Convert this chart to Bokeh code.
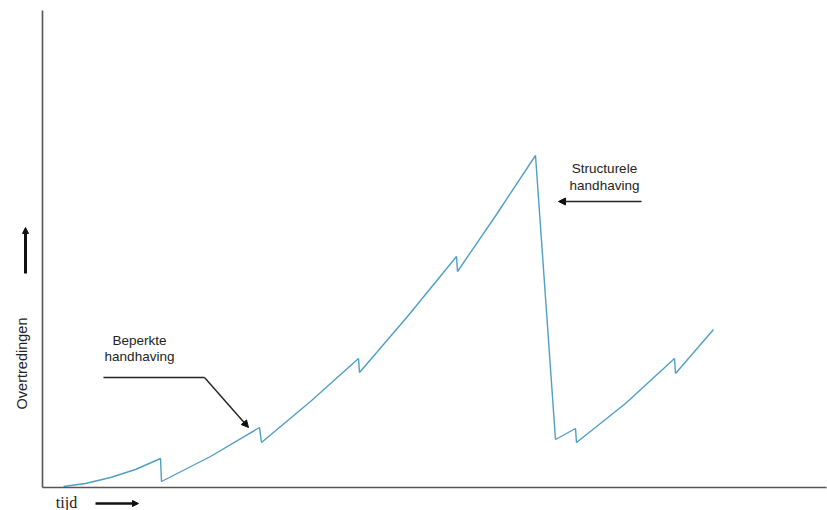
import math
from bokeh.plotting import figure
from bokeh.models import Label, Arrow, NormalHead, Range1d
from bokeh.embed import file_html
from bokeh.resources import INLINE

# Data (time vs. number of violations)
tijd = [21, 43, 68, 93, 118, 119, 168, 217, 219, 268, 316, 317, 365, 414,
        415, 454, 493, 513, 533, 534, 583, 632, 633, 671]
overtredingen = [1, 4, 10, 18, 29, 6, 31, 60, 45, 86, 129, 115, 171, 231,
                 216, 273, 332, 48, 59, 45, 84, 129, 114, 158]

x_label = "tijd"
y_label = "Overtredingen"
note_limited = ["Beperkte", "handhaving"]
note_structural = ["Structurele", "handhaving"]

X_MAX = 784
Y_MAX = 477

p = figure(width=827, height=510, output_backend="svg", toolbar_location=None,
           x_range=Range1d(-42, 785), y_range=Range1d(-23, 487),
           min_border=0, x_axis_location=None, y_axis_location=None)
p.grid.visible = False
p.outline_line_color = None
p.background_fill_color = "white"

AX = "#555555"
# axis lines (left and bottom only)
p.add_layout(Arrow(x_start=0, y_start=0, x_end=0, y_end=Y_MAX,
                   line_color=AX, line_width=1.6, end=None))
p.add_layout(Arrow(x_start=0, y_start=0, x_end=X_MAX, y_end=0,
                   line_color=AX, line_width=1.6, end=None))

p.line(tijd, overtredingen, line_color="#4f9ec4", line_width=1.4)

TXT = "#222222"
FONT = "Liberation Sans"
FS = "13.5px"

# Beperkte handhaving annotation
p.add_layout(Label(x=97, y=147, text=note_limited[0], text_align="center",
                   text_baseline="middle", text_font=FONT, text_font_size=FS,
                   text_color=TXT))
p.add_layout(Label(x=97, y=131, text=note_limited[1], text_align="center",
                   text_baseline="middle", text_font=FONT, text_font_size=FS,
                   text_color=TXT))
p.add_layout(Arrow(x_start=61, y_start=110, x_end=162, y_end=110,
                   line_color="#222222", line_width=1.4, end=None))
p.add_layout(Arrow(x_start=162, y_start=110, x_end=206, y_end=60,
                   line_color="#222222", line_width=1.4,
                   end=NormalHead(size=7, fill_color="#111111", line_color="#111111")))

# Structurele handhaving annotation
p.add_layout(Label(x=562, y=319, text=note_structural[0], text_align="center",
                   text_baseline="middle", text_font=FONT, text_font_size=FS,
                   text_color=TXT))
p.add_layout(Label(x=562, y=302, text=note_structural[1], text_align="center",
                   text_baseline="middle", text_font=FONT, text_font_size=FS,
                   text_color=TXT))
p.add_layout(Arrow(x_start=599, y_start=286, x_end=516, y_end=286,
                   line_color="#222222", line_width=1.6,
                   end=NormalHead(size=7, fill_color="#111111", line_color="#111111")))

# Axis labels with arrows
p.add_layout(Label(x=-20.5, y=124, text=y_label, angle=math.pi / 2,
                   text_align="center", text_baseline="middle", text_font=FONT,
                   text_font_size="14.5px", text_color=TXT))
p.add_layout(Arrow(x_start=-17, y_start=214, x_end=-17, y_end=260,
                   line_color="#111111", line_width=3,
                   end=NormalHead(size=6, fill_color="#111111", line_color="#111111")))
p.add_layout(Label(x=24, y=-15, text=x_label, text_align="center",
                   text_baseline="middle", text_font="Liberation Serif",
                   text_font_size="16px", text_color=TXT))
p.add_layout(Arrow(x_start=53, y_start=-16, x_end=96, y_end=-16,
                   line_color="#111111", line_width=2.6,
                   end=NormalHead(size=6, fill_color="#111111", line_color="#111111")))

open("out.html", "w").write(file_html(p, INLINE))
